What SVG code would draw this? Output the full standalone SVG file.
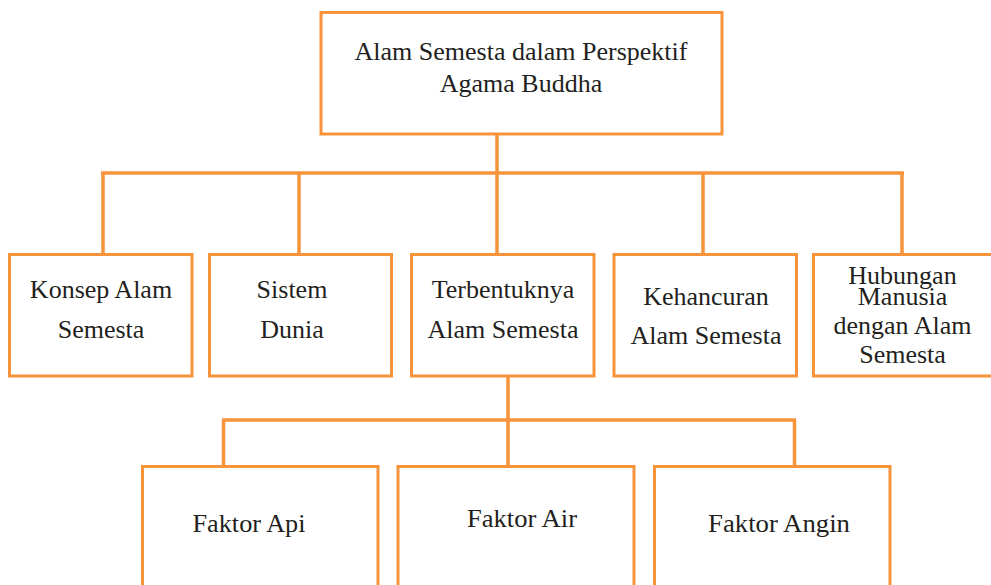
<svg xmlns="http://www.w3.org/2000/svg" width="991" height="585" viewBox="0 0 991 585">
<style>
.box{fill:#fff;stroke:#F7933A;stroke-width:3}
.ln{fill:none;stroke:#F7933A;stroke-width:3.5}
</style>
<rect width="991" height="585" fill="#fff"/>
<g id="connectors">
<path class="ln" d="M497 134V173M101 173H904M103 173V254M299 173V254M497 173V254M703 173V254M902 173V254"/>
<path class="ln" d="M508 376V466M222 420H796M223.5 420V466M794.5 420V466"/>
</g>
<g id="root">
<rect class="box" x="321" y="12.5" width="401" height="121.5"/>
<text font-family="'Liberation Serif', serif" font-size="26" fill="#231F20" text-anchor="middle" x="521" y="60">Alam Semesta dalam Perspektif</text>
<text font-family="'Liberation Serif', serif" font-size="26" fill="#231F20" text-anchor="middle" x="521" y="92">Agama Buddha</text>
</g>
<g id="konsep">
<rect class="box" x="9.5" y="254.5" width="182.5" height="121.5"/>
<text font-family="'Liberation Serif', serif" font-size="26" fill="#231F20" text-anchor="middle" x="101" y="298">Konsep Alam</text>
<text font-family="'Liberation Serif', serif" font-size="26" fill="#231F20" text-anchor="middle" x="101" y="338">Semesta</text>
</g>
<g id="sistem">
<rect class="box" x="209.5" y="254.5" width="182" height="121.5"/>
<text font-family="'Liberation Serif', serif" font-size="26" fill="#231F20" text-anchor="middle" x="292" y="298">Sistem</text>
<text font-family="'Liberation Serif', serif" font-size="26" fill="#231F20" text-anchor="middle" x="292" y="338">Dunia</text>
</g>
<g id="terbentuknya">
<rect class="box" x="411.5" y="254.5" width="182.5" height="121.5"/>
<text font-family="'Liberation Serif', serif" font-size="26" fill="#231F20" text-anchor="middle" x="503" y="298">Terbentuknya</text>
<text font-family="'Liberation Serif', serif" font-size="26" fill="#231F20" text-anchor="middle" x="503" y="338">Alam Semesta</text>
</g>
<g id="kehancuran">
<rect class="box" x="614" y="254.5" width="182.5" height="121.5"/>
<text font-family="'Liberation Serif', serif" font-size="26" fill="#231F20" text-anchor="middle" x="706" y="305">Kehancuran</text>
<text font-family="'Liberation Serif', serif" font-size="26" fill="#231F20" text-anchor="middle" x="706" y="344">Alam Semesta</text>
</g>
<g id="hubungan">
<rect class="box" x="813.5" y="254.5" width="190" height="121.5"/>
<text font-family="'Liberation Serif', serif" font-size="26" fill="#231F20" text-anchor="middle" x="902.5" y="284">Hubungan</text>
<text font-family="'Liberation Serif', serif" font-size="26" fill="#231F20" text-anchor="middle" x="902.5" y="305">Manusia</text>
<text font-family="'Liberation Serif', serif" font-size="26" fill="#231F20" text-anchor="middle" x="902.5" y="334">dengan Alam</text>
<text font-family="'Liberation Serif', serif" font-size="26" fill="#231F20" text-anchor="middle" x="902.5" y="362.5">Semesta</text>
</g>
<g id="faktor-api">
<rect class="box" x="142.5" y="466.5" width="235.5" height="140"/>
<text font-family="'Liberation Serif', serif" font-size="26" fill="#231F20" text-anchor="middle" x="249" y="531.5" textLength="113" lengthAdjust="spacingAndGlyphs">Faktor Api</text>
</g>
<g id="faktor-air">
<rect class="box" x="398" y="466.5" width="236" height="140"/>
<text font-family="'Liberation Serif', serif" font-size="26" fill="#231F20" text-anchor="middle" x="522" y="527" textLength="110" lengthAdjust="spacingAndGlyphs">Faktor Air</text>
</g>
<g id="faktor-angin">
<rect class="box" x="654.5" y="466.5" width="235.5" height="140"/>
<text font-family="'Liberation Serif', serif" font-size="26" fill="#231F20" text-anchor="middle" x="779" y="531.5" textLength="142" lengthAdjust="spacingAndGlyphs">Faktor Angin</text>
</g>
</svg>
